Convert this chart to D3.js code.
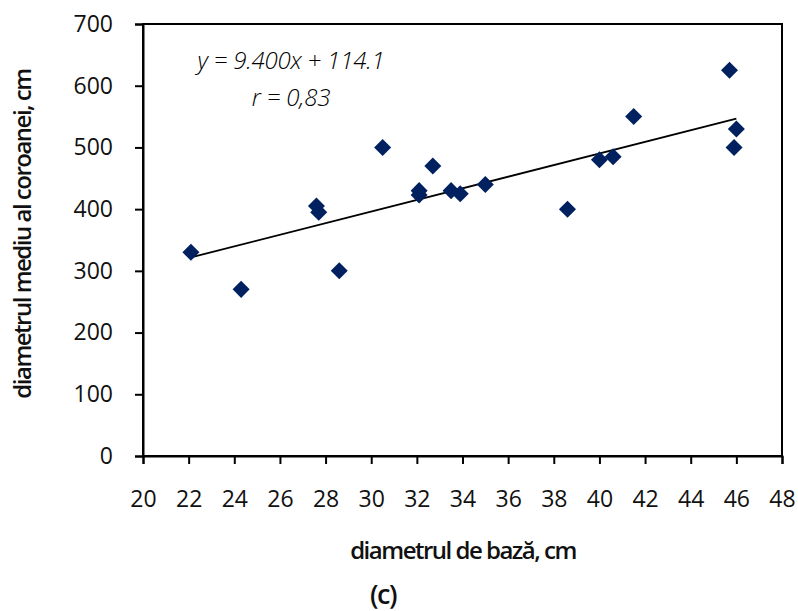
<!DOCTYPE html>
<html>
<head>
<meta charset="utf-8">
<script src="https://cdn.jsdelivr.net/npm/d3@7"></script>
<style>
  html, body { margin: 0; padding: 0; background: #fff; }
  svg { display: block; }
  .tick text { font-family: "Open Sans", "Noto Sans", sans-serif; font-size: 23px; fill: #111; }
</style>
</head>
<body>
<svg id="chart" width="798" height="611"></svg>
<script>
// base diameter (cm) and mean crown diameter (cm)
const baseDiameter = [22.1, 24.3, 27.6, 27.7, 28.6, 30.5, 32.1, 32.1, 32.7, 33.5, 33.9, 35.0, 38.6, 40.0, 40.6, 41.5, 45.7, 46.0, 45.9];
const crownDiameter = [330, 270, 405, 395, 300, 500, 430, 423, 470, 430, 425, 440, 400, 480, 485, 550, 625, 530, 500];

// linear fit y = slope * x + intercept
const slope = 9.400;
const intercept = 114.1;
const fitLabel = "y = 9.400x + 114.1";
const rLabel = "r = 0,83";

const xTicks = [20, 22, 24, 26, 28, 30, 32, 34, 36, 38, 40, 42, 44, 46, 48];
const yTicks = [0, 100, 200, 300, 400, 500, 600, 700];

const svg = d3.select("#chart");
const W = 798, H = 611;
const m = { left: 143, right: 16, top: 24, bottom: 155 };

const x = d3.scaleLinear().domain([20, 48]).range([m.left, W - m.right]);
const y = d3.scaleLinear().domain([0, 700]).range([H - m.bottom, m.top]);

// plot frame
svg.append("rect")
  .attr("x", x(20)).attr("y", y(700))
  .attr("width", x(48) - x(20)).attr("height", y(0) - y(700))
  .attr("fill", "none").attr("stroke", "#000").attr("stroke-width", 2);

// axes
const xAxis = svg.append("g")
  .attr("transform", `translate(0,${y(0)})`)
  .call(d3.axisBottom(x).tickValues(xTicks).tickSize(8).tickPadding(27).tickFormat(d3.format("d")));
xAxis.select(".domain").attr("stroke-width", 2);
xAxis.selectAll(".tick line").attr("stroke-width", 2);

const yAxis = svg.append("g")
  .attr("transform", `translate(${x(20)},0)`)
  .call(d3.axisLeft(y).tickValues(yTicks).tickSize(8).tickPadding(22).tickFormat(d3.format("d")));
yAxis.select(".domain").attr("stroke-width", 2);
yAxis.selectAll(".tick line").attr("stroke-width", 2);

// trend line over the range of the data
const xMin = d3.min(baseDiameter), xMax = d3.max(baseDiameter);
svg.append("line")
  .attr("x1", x(xMin)).attr("y1", y(slope * xMin + intercept))
  .attr("x2", x(xMax)).attr("y2", y(slope * xMax + intercept))
  .attr("stroke", "#000").attr("stroke-width", 1.8);

// data points as diamonds
const diamond = d3.symbol().type(d3.symbolSquare).size(145);
svg.append("g").selectAll("path")
  .data(baseDiameter.map((d, i) => [d, crownDiameter[i]]))
  .join("path")
  .attr("d", diamond)
  .attr("transform", d => `translate(${x(d[0])},${y(d[1])}) rotate(45)`)
  .attr("fill", "#002060");

// regression annotation
const ann = svg.append("g")
  .attr("font-family", "'Open Sans', 'Noto Sans', sans-serif")
  .attr("font-style", "italic")
  .attr("font-weight", 300)
  .attr("font-size", 24)
  .attr("fill", "#000")
  .attr("text-anchor", "middle");
ann.append("text").attr("x", 291).attr("y", 69).attr("letter-spacing", -0.2).text(fitLabel);
ann.append("text").attr("x", 291).attr("y", 106).attr("letter-spacing", -0.2).text(rLabel);

// axis titles
svg.append("text")
  .attr("x", 463).attr("y", 559)
  .attr("text-anchor", "middle")
  .attr("font-family", "'Open Sans', 'Noto Sans', sans-serif")
  .attr("font-weight", 600)
  .attr("font-size", 24)
  .attr("letter-spacing", -1.5)
  .attr("fill", "#111")
  .text("diametrul de bază, cm");

svg.append("text")
  .attr("transform", "translate(31,234) rotate(-90)")
  .attr("text-anchor", "middle")
  .attr("font-family", "'Open Sans', 'Noto Sans', sans-serif")
  .attr("font-weight", 600)
  .attr("font-size", 24)
  .attr("letter-spacing", -1.5)
  .attr("fill", "#111")
  .text("diametrul mediu al coroanei, cm");

svg.append("text")
  .attr("x", 383).attr("y", 604)
  .attr("text-anchor", "middle")
  .attr("font-family", "'Open Sans', 'Noto Sans', sans-serif")
  .attr("font-weight", 600)
  .attr("font-size", 27)
  .attr("letter-spacing", -1.5)
  .attr("fill", "#111")
  .text("(c)");
</script>
</body>
</html>
